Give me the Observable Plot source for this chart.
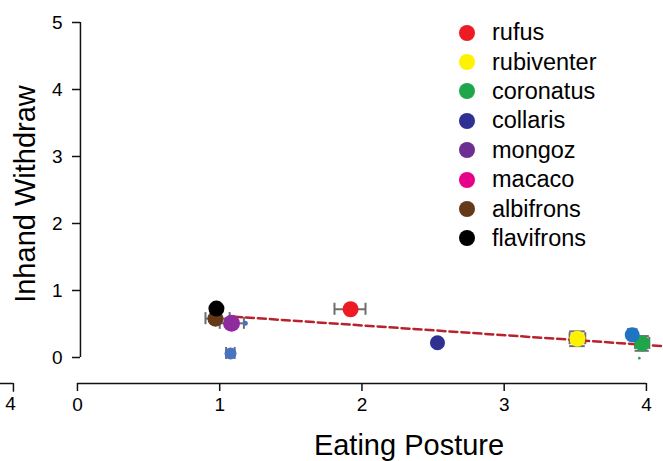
<!DOCTYPE html>
<html>
<head>
<meta charset="utf-8">
<script src="https://cdn.jsdelivr.net/npm/d3@7"></script>
<script src="https://cdn.jsdelivr.net/npm/@observablehq/plot@0.6"></script>
<style>
  html, body { margin: 0; padding: 0; background: #fff; }
  #wrap { position: relative; width: 663px; height: 461px; font-family: "Liberation Sans", Arial, Helvetica, sans-serif; color: #111; }
  #wrap svg text { font-size: 19px !important; font-family: "Liberation Sans", Arial, Helvetica, sans-serif; fill: #000; }
  #legend { position: absolute; left: 459px; top: 18px; }
  .item { display: flex; align-items: center; height: 29.4px; }
  .sw { width: 16px; height: 16px; border-radius: 50%; margin-right: 17px; }
  .lab { font-size: 23.5px; color: #000; }
  .title { position: absolute; font-size: 29px; white-space: nowrap; line-height: 1; color: #000; }
  #xt { left: 409px; top: 445px; transform: translate(-50%, -50%); }
  #yt { left: 25px; top: 194px; transform: translate(-50%, -50%) rotate(-90deg); }
</style>
</head>
<body>
<div id="wrap"><div id="legend"></div><div class="title" id="xt"></div><div class="title" id="yt"></div></div>
<script>
// ---- Legend ----
const legendSpecies = ["rufus", "rubiventer", "coronatus", "collaris", "mongoz", "macaco", "albifrons", "flavifrons"];
const legendColors  = ["#ed1c24", "#fff200", "#1fa64b", "#2e3192", "#6e2f92", "#e6008a", "#64391a", "#000000"];

// ---- Points (Eating Posture vs Inhand Withdraw) ----
const pointNames  = ["albifrons", "flavifrons", "mongoz", "unlabeled-1", "unlabeled-2", "rufus", "collaris", "rubiventer", "unlabeled-3", "coronatus", "unlabeled-4"];
const pointX      = [0.97, 0.977, 1.083, 1.076, 1.18, 1.92, 2.531, 3.515, 3.90, 3.97, 3.95];
const pointY      = [0.58, 0.73, 0.51, 0.06, 0.51, 0.72, 0.22, 0.28, 0.34, 0.21, -0.01];
const pointColors = ["#64391a", "#000000", "#8e2c9e", "#4a72c2", "#4a72c2", "#ed1c24", "#2e3192", "#fff200", "#1f74c4", "#1fa64b", "#1fa64b"];
const pointRadius = [8, 8, 8.5, 6, 2.5, 8, 7.5, 8, 7.5, 8, 1.3];

// error bars (null = none)
const errXLow  = [0.90, null, 1.00, 1.045, null, 1.807, null, 3.46, 3.87, 3.92, null];
const errXHigh = [1.07, null, 1.17, 1.105, null, 2.025, null, 3.57, 3.93, 4.02, null];
const errYLow  = [null, null, null, 0.02, null, null, null, 0.17, 0.26, 0.10, null];
const errYHigh = [null, null, null, 0.10, null, null, null, 0.39, 0.42, 0.32, null];

// ---- Regression (dashed) ----
const fitX = [1.10, 4.12];
const fitY = [0.61, 0.17];

// ---- Axes ----
const xTicks = [0, 1, 2, 3, 4];
const yTicks = [0, 1, 2, 3, 4, 5];
const xLabel = "Eating Posture";
const yLabel = "Inhand Withdraw";
// fragment of neighbouring panel's axis at far left
const fragTickX = [-0.45];
const fragTickLabel = ["4"];

const pts = pointNames.map((n, i) => ({
  name: n, x: pointX[i], y: pointY[i], color: pointColors[i], r: pointRadius[i],
  xl: errXLow[i], xh: errXHigh[i], yl: errYLow[i], yh: errYHigh[i]
}));
const fit = fitX.map((x, i) => ({x, y: fitY[i]}));
const xe = pts.filter(d => d.xl != null);
const ye = pts.filter(d => d.yl != null);
const capY = 0.09;
const grey = "#6d6d6d";

const chart = Plot.plot({
  width: 663,
  height: 461,
  marginLeft: 80,
  marginBottom: 78,
  marginTop: 0,
  marginRight: 0,
  style: {background: "transparent", color: "#111"},
  x: {domain: [-0.541, 4.12], range: [0, 663]},
  y: {domain: [0, 5], range: [357, 22]},
  r: {type: "identity"},
  marks: [
    Plot.axisX({ticks: xTicks, tickSize: 8, tickPadding: 6, tickFormat: d3.format("d"), label: null, stroke: "#111", strokeWidth: 1.5}),
    Plot.axisY({ticks: yTicks, tickSize: 8, tickPadding: 10, tickFormat: d3.format("d"), label: null, stroke: "#111", strokeWidth: 1.5}),
    Plot.ruleX([0], {y1: 0, y2: 5, dx: 3, stroke: "#111", strokeWidth: 1.5}),
    Plot.ruleY([0], {x1: 0, x2: 4, dy: 26, stroke: "#111", strokeWidth: 1.5}),
    // fragment of neighbouring panel
    Plot.ruleY([0], {x1: -0.56, x2: fragTickX[0], dy: 26, stroke: "#111", strokeWidth: 1.5}),
    Plot.ruleX(fragTickX, {x: d => d, y1: 0, y2: -0.13, dy: 26, stroke: "#111", strokeWidth: 1.5}),
    Plot.text(fragTickLabel, {x: fragTickX, frameAnchor: "bottom", dy: 26, dx: -3, fill: "#000"}),
    // error bars
    Plot.ruleY(xe, {y: "y", x1: "xl", x2: "xh", stroke: grey, strokeWidth: 2}),
    Plot.ruleX(xe, {x: "xl", y1: d => d.y - capY, y2: d => d.y + capY, stroke: grey, strokeWidth: 2}),
    Plot.ruleX(xe, {x: "xh", y1: d => d.y - capY, y2: d => d.y + capY, stroke: grey, strokeWidth: 2}),
    Plot.ruleX(ye, {x: "x", y1: "yl", y2: "yh", stroke: grey, strokeWidth: 2}),
    Plot.ruleY(ye, {y: "yl", x1: "xl", x2: "xh", stroke: grey, strokeWidth: 2}),
    Plot.ruleY(ye, {y: "yh", x1: "xl", x2: "xh", stroke: grey, strokeWidth: 2}),
    // regression
    Plot.line(fit, {x: "x", y: "y", stroke: "#b8222d", strokeWidth: 2.5, strokeDasharray: "8,4"}),
    // points
    Plot.dot(pts, {x: "x", y: "y", r: "r", fill: "color", stroke: "none"})
  ]
});
chart.style.position = "absolute";
chart.style.left = "0";
chart.style.top = "0";
document.getElementById("wrap").prepend(chart);

document.getElementById("xt").textContent = xLabel;
document.getElementById("yt").textContent = yLabel;

const leg = document.getElementById("legend");
legendSpecies.forEach((s, i) => {
  const row = document.createElement("div");
  row.className = "item";
  row.innerHTML = `<div class="sw" style="background:${legendColors[i]}"></div><div class="lab">${s}</div>`;
  leg.appendChild(row);
});
</script>
</body>
</html>
